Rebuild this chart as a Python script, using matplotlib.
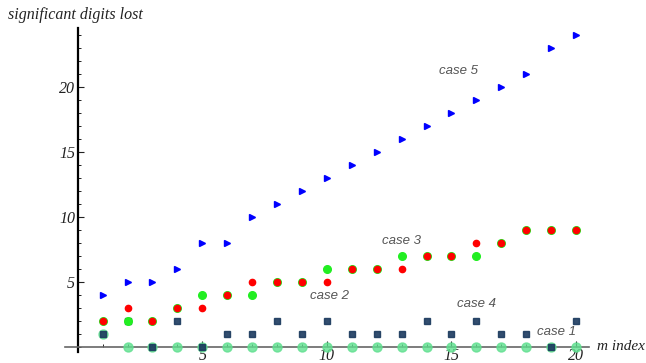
import matplotlib.pyplot as plt
from matplotlib.ticker import MultipleLocator

m = list(range(1, 21))

# digits lost per case
case1 = [1, 0, 0, 0, 0, 0, 0, 0, 0, 0, 0, 0, 0, 0, 0, 0, 0, 0, 0, 0]
case2 = [2, 3, 2, 3, 3, 4, 5, 5, 5, 5, 6, 6, 6, 7, 7, 8, 8, 9, 9, 9]
case3 = [2, 2, 2, 3, 4, 4, 4, 5, 5, 6, 6, 6, 7, 7, 7, 7, 8, 9, 9, 9]
case4 = [1, 2, 0, 2, 0, 1, 1, 2, 1, 2, 1, 1, 1, 2, 1, 2, 1, 1, 0, 2]
case5 = [4, 5, 5, 6, 8, 8, 10, 11, 12, 13, 14, 15, 16, 17, 18, 19, 20, 21, 23, 24]

labels = ['case 1', 'case 2', 'case 3', 'case 4', 'case 5']
label_pos = [(19.2, 1.15), (10.1, 3.9), (13.0, 8.15), (16.0, 3.3), (15.3, 21.2)]

serif = ['Liberation Serif', 'DejaVu Serif']

fig = plt.figure(figsize=(6.46, 3.63), dpi=100)
ax = fig.add_axes([0.101, 0.0298, 0.81, 0.892])

# case 1 under the squares, so overlaps come out dark green
ax.plot(m, case1, 'o', color='#5fe08f', markersize=6.5, alpha=0.8, zorder=3)
ax.plot(m, case4, 's', color='#1b3a5e', markersize=4.5, alpha=0.9, zorder=4)
ax.plot(m, case3, 'o', color='#22ee22', markersize=5.5, zorder=5)
ax.plot(m, case2, 'o', color='#ff0000', markersize=4.5, zorder=6)
ax.plot(m, case5, '>', color='#0000ff', markersize=5, zorder=5)

for txt, (x, y) in zip(labels, label_pos):
    ax.text(x, y, txt, ha='center', va='center', fontsize=9.5,
            style='italic', color='#555555', family=['Liberation Sans', 'DejaVu Sans'])

ax.set_xlim(-0.5, 20.5)
ax.set_ylim(-0.4, 24.5)

ax.spines['left'].set_position(('data', 0))
ax.spines['bottom'].set_position(('data', 0))
ax.spines['right'].set_visible(False)
ax.spines['top'].set_visible(False)
ax.spines['left'].set_linewidth(1.6)
ax.spines['bottom'].set_color('#666666')
ax.spines['bottom'].set_linewidth(1.2)

ax.xaxis.set_major_locator(MultipleLocator(5))
ax.xaxis.set_minor_locator(MultipleLocator(1))
ax.yaxis.set_major_locator(MultipleLocator(5))
ax.yaxis.set_minor_locator(MultipleLocator(1))
ax.set_xticks([5, 10, 15, 20])
ax.set_yticks([5, 10, 15, 20])

ax.tick_params(axis='both', which='major', direction='in', length=4, width=0.8,
               labelsize=11.5, colors='#222222', pad=2)
ax.tick_params(axis='x', which='major', pad=0.5)
ax.tick_params(axis='both', which='minor', direction='in', length=2, width=0.6)
for lab in ax.get_xticklabels() + ax.get_yticklabels():
    lab.set_family(serif)
    lab.set_style('italic')

fig.text(0.012, 0.96, 'significant digits lost', fontsize=11.5, style='italic',
         family=serif, color='#222222', va='center', ha='left')
ax.text(20.85, 0, 'm index', fontsize=11, style='italic', family=serif,
        color='#222222', va='center', ha='left', clip_on=False)

fig.savefig('out.png', dpi=100)
